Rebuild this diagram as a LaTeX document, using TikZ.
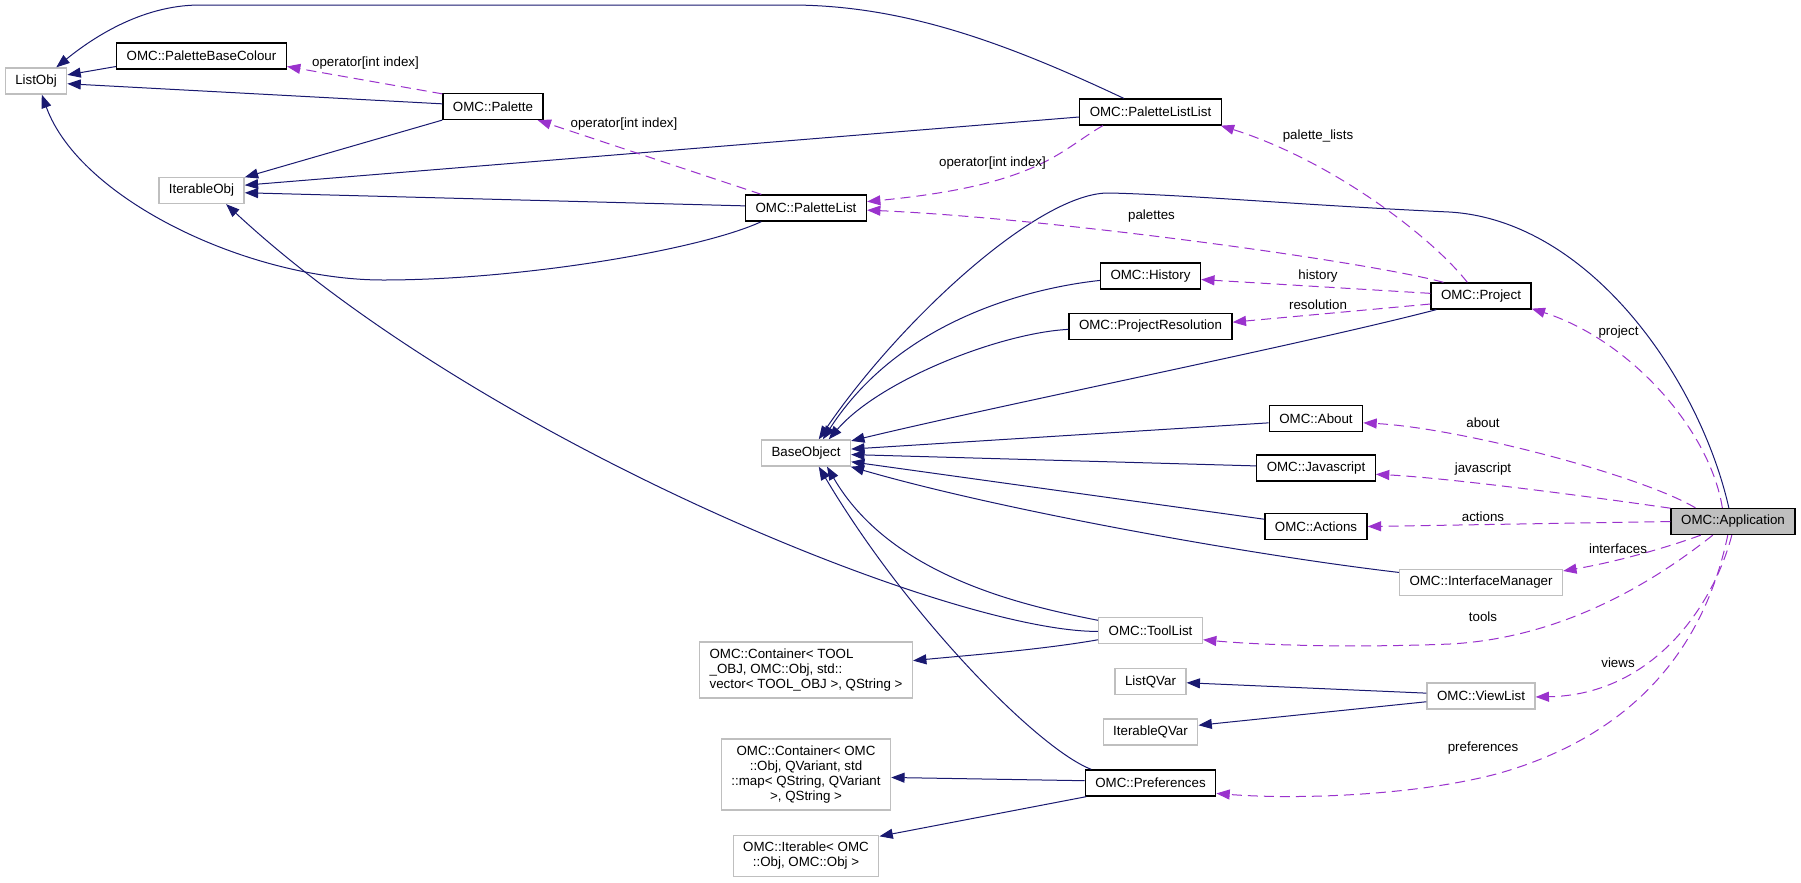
\documentclass[tikz,border=0pt]{standalone}
\usepackage{fontspec}
\setmainfont{Liberation Sans}
\usetikzlibrary{arrows.meta}

\definecolor{inhblue}{RGB}{25,25,112}
\definecolor{usepurple}{RGB}{154,50,205}
\definecolor{undocgray}{RGB}{191,191,191}

\tikzset{
	cls/.style={draw=black, line width=1pt, fill=white, font=\fontsize{10pt}{11.25pt}\selectfont,
		inner xsep=7.5pt, inner ysep=3pt, minimum height=19.5pt},
	ucls/.style={cls, draw=undocgray},
	appcls/.style={cls, fill=undocgray},
	inherit/.style={draw=inhblue, line width=0.75pt, -{Triangle[length=10pt,width=7.5pt]}},
	uses/.style={draw=usepurple, line width=0.75pt, dash pattern=on 7.5pt off 4.5pt,
		-{Triangle[length=10pt,width=7.5pt]}},
	lbl/.style={font=\fontsize{10pt}{12pt}\selectfont, inner sep=1pt}
}

\begin{document}
\begin{tikzpicture}[x=0.75pt,y=-0.75pt]
	\pgfmathsetmacro{\colA}{36}			%ListObj
	\pgfmathsetmacro{\colB}{201.5}		%first bases
	\pgfmathsetmacro{\colC}{493}		%Palette
	\pgfmathsetmacro{\colD}{806}		%BaseObject column
	\pgfmathsetmacro{\colE}{1150.5}		%members of Project
	\pgfmathsetmacro{\colF}{1316}		%About, Javascript, Actions
	\pgfmathsetmacro{\colG}{1481}		%Project column
	\pgfmathsetmacro{\colH}{1733}		%Application

	\useasboundingbox[fill=white] (0,0) rectangle (1801,882);

	%classes
	\node[ucls] (listobj) at (\colA,81) {ListObj};
	\node[cls] (pbcolour) at (\colB,56) {OMC::PaletteBaseColour};
	\node[ucls] (iterobj) at (\colB,190.5) {IterableObj};
	\node[cls] (palette) at (\colC,106.5) {OMC::Palette};
	\node[cls] (plist) at (\colD,208) {OMC::PaletteList};
	\node[ucls] (baseobj) at (\colD,453) {BaseObject};
	\node[ucls, align=left, minimum height=42pt] (contool) at (\colD,670)
		{OMC::Container< TOOL\\\_OBJ, OMC::Obj, std::\\vector< TOOL\_OBJ >, QString >};
	\node[ucls, align=center, minimum height=53.25pt] (conomc) at (\colD,774.5)
		{OMC::Container< OMC\\::Obj, QVariant, std\\::map< QString, QVariant\\>, QString >};
	\node[ucls, align=center, minimum height=30.5pt] (iterable) at (\colD,856)
		{OMC::Iterable< OMC\\::Obj, OMC::Obj >};
	\node[cls] (pllist) at (\colE,112) {OMC::PaletteListList};
	\node[cls] (history) at (\colE,276) {OMC::History};
	\node[cls] (projres) at (\colE,326.5) {OMC::ProjectResolution};
	\node[ucls] (toollist) at (\colE,630.5) {OMC::ToolList};
	\node[ucls] (listqvar) at (\colE,681.5) {ListQVar};
	\node[ucls] (iterqvar) at (\colE,732) {IterableQVar};
	\node[cls] (prefs) at (\colE,783) {OMC::Preferences};
	\node[cls] (about) at (\colF,418.7) {OMC::About};
	\node[cls] (jscript) at (\colF,468) {OMC::Javascript};
	\node[cls] (actions) at (\colF,526.5) {OMC::Actions};
	\node[cls] (project) at (\colG,296) {OMC::Project};
	\node[ucls] (ifacemgr) at (\colG,582.5) {OMC::InterfaceManager};
	\node[ucls] (viewlist) at (\colG,696) {OMC::ViewList};
	\node[appcls] (app) at (\colH,521.5) {OMC::Application};

	%inheritance
	\draw[inherit] (pbcolour.187) -- (listobj.11);
	\draw[inherit] (palette.177) -- (listobj.355);
	\draw[inherit] (pllist.153) .. controls (1000,40) and (900,5) .. (790,5) -- (200,5)
		.. controls (140,5) and (90,40) .. (listobj.34);
	\draw[inherit] (plist.197) .. controls (700,250) and (520,280) .. (383,280)
		.. controls (250,280) and (80,200) .. (listobj.293);
	\draw[inherit] (palette.195) -- (iterobj.17);
	\draw[inherit] (pllist.184) -- (iterobj.7);
	\draw[inherit] (plist.178) -- (iterobj.357);
	\draw[inherit] (toollist.181) .. controls (950,632) and (480,440) .. (iterobj.331);
	\draw[inherit] (app.107) .. controls (1700,380) and (1590,220) .. (1449,212)
		.. controls (1300,205) and (1190,195) .. (1110,193)
		.. controls (1040,191) and (900,320) .. (baseobj.47);
	\draw[inherit] (history.185) .. controls (1030,288) and (900,320) .. (baseobj.39);
	\draw[inherit] (projres.182) .. controls (1000,333) and (880,380) .. (baseobj.31);
	\draw[inherit] (project.197) .. controls (1300,345) and (1000,405) .. (baseobj.15);
	\draw[inherit] (about.185) -- (baseobj.5);
	\draw[inherit] (jscript.178) -- (baseobj.358);
	\draw[inherit] (actions.172) -- (baseobj.349);
	\draw[inherit] (ifacemgr.173) .. controls (1250,555) and (1000,510) .. (baseobj.343);
	\draw[inherit] (toollist.169) .. controls (1020,605) and (890,575) .. (baseobj.327);
	\draw[inherit] (prefs.167) .. controls (1040,750) and (910,620) .. (baseobj.313);
	\draw[inherit] (toollist.190) .. controls (1040,650) and (960,656) .. (contool.5);
	\draw[inherit] (viewlist.177) -- (listqvar.358);
	\draw[inherit] (viewlist.186) -- (iterqvar.8);
	\draw[inherit] (prefs.178) -- (conomc.358);
	\draw[inherit] (prefs.192) -- (iterable.15);

	%usage
	\draw[uses] (palette.166) -- (pbcolour.353);
	\draw[uses] (plist.163) -- (palette.343);
	\draw[uses] (pllist.196) .. controls (1060,150) and (1040,185) .. (plist.6);
	\draw[uses] (project.135) .. controls (1430,235) and (1330,160) .. (pllist.349);
	\draw[uses] (project.160) .. controls (1370,262) and (1050,218) .. (plist.358);
	\draw[uses] (project.177) -- (history.356);
	\draw[uses] (project.189) -- (projres.3);
	\draw[uses] (app.128) .. controls (1710,430) and (1630,340) .. (project.346);
	\draw[uses] (app.160) .. controls (1640,475) and (1460,428) .. (about.355);
	\draw[uses] (app.168) .. controls (1600,498) and (1450,478) .. (jscript.354);
	\draw[uses] (app.180) -- (actions.0);
	\draw[uses] (app.203) .. controls (1660,550) and (1610,563) .. (ifacemgr.8);
	\draw[uses] (app.214) .. controls (1650,585) and (1560,638) .. (1450,644)
		.. controls (1350,648) and (1260,645) .. (toollist.350);
	\draw[uses] (app.265) .. controls (1712,610) and (1650,695) .. (viewlist.359);
	\draw[uses] (app.249) .. controls (1708,630) and (1650,730) .. (1500,773)
		.. controls (1420,795) and (1300,800) .. (prefs.351);

	%labels
	\node[lbl] (lbl-op1) at (365.5,63) {operator[int index]};
	\node[lbl] (lbl-op2) at (624,124) {operator[int index]};
	\node[lbl] (lbl-op3) at (992.5,163) {operator[int index]};
	\node[lbl] (lbl-pls) at (1318,136) {palette\_lists};
	\node[lbl] (lbl-pal) at (1151.5,216) {palettes};
	\node[lbl] (lbl-his) at (1318,276) {history};
	\node[lbl] (lbl-res) at (1318,305) {resolution};
	\node[lbl] (lbl-prj) at (1618.5,332) {project};
	\node[lbl] (lbl-abt) at (1483,423) {about};
	\node[lbl] (lbl-js) at (1483,469) {javascript};
	\node[lbl] (lbl-act) at (1483,517) {actions};
	\node[lbl] (lbl-ifc) at (1618,549) {interfaces};
	\node[lbl] (lbl-tls) at (1483,617) {tools};
	\node[lbl] (lbl-vws) at (1618,663) {views};
	\node[lbl] (lbl-prf) at (1483,748) {preferences};
\end{tikzpicture}
\end{document}
